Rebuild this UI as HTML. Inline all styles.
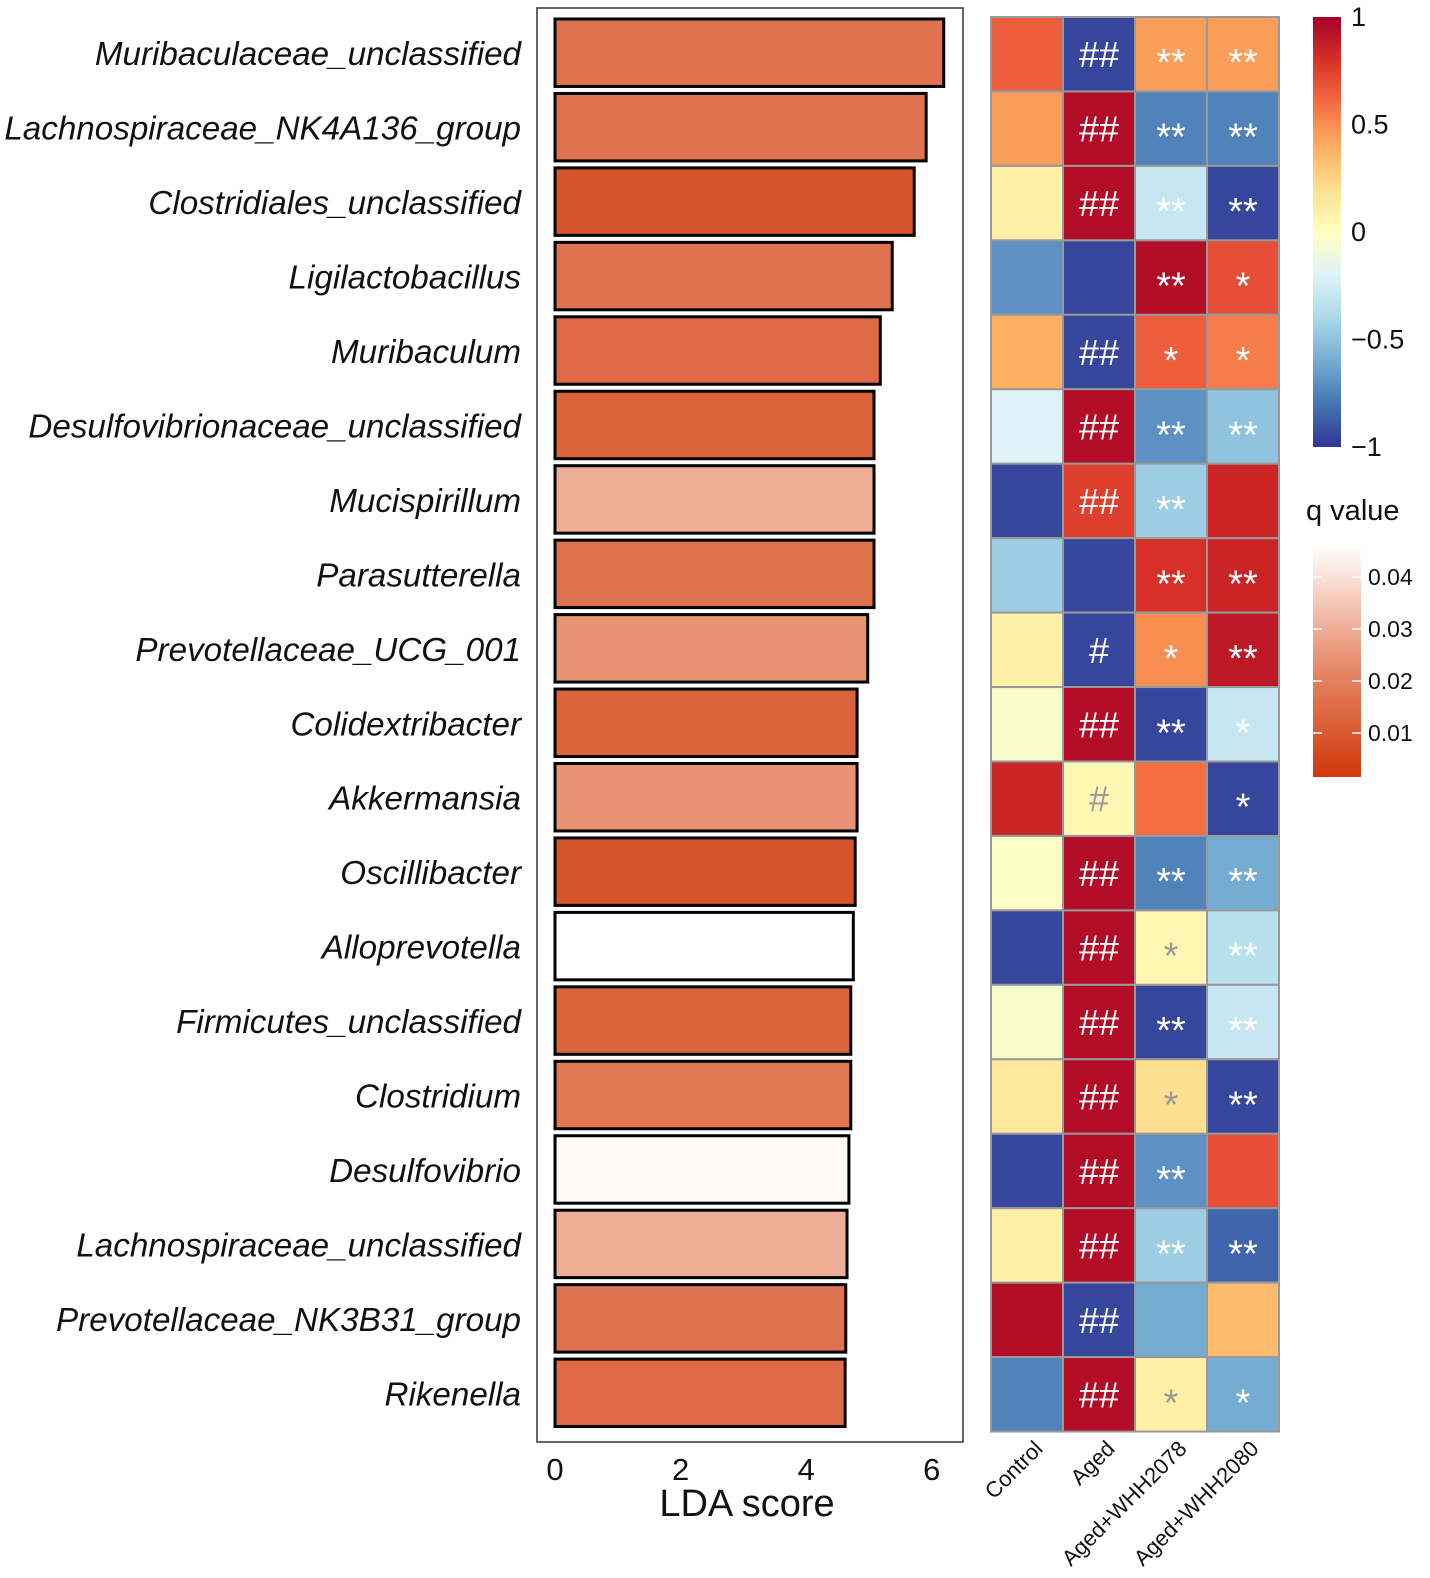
<!DOCTYPE html>
<html><head><meta charset="utf-8"><style>
html,body{margin:0;padding:0;background:#fff;}
svg{display:block;font-family:"Liberation Sans",Arial,sans-serif;}
</style></head><body>
<svg id="chart" width="1430" height="1578" viewBox="0 0 1430 1578" xmlns="http://www.w3.org/2000/svg"></svg>
<script>
const taxa=["Muribaculaceae_unclassified","Lachnospiraceae_NK4A136_group","Clostridiales_unclassified","Ligilactobacillus","Muribaculum","Desulfovibrionaceae_unclassified","Mucispirillum","Parasutterella","Prevotellaceae_UCG_001","Colidextribacter","Akkermansia","Oscillibacter","Alloprevotella","Firmicutes_unclassified","Clostridium","Desulfovibrio","Lachnospiraceae_unclassified","Prevotellaceae_NK3B31_group","Rikenella"];
const ldaScores=[6.19,5.91,5.72,5.37,5.18,5.08,5.08,5.08,4.98,4.81,4.81,4.78,4.75,4.71,4.71,4.68,4.65,4.63,4.62];
const qValues=[0.017,0.017,0.009,0.017,0.015,0.013,0.030,0.017,0.025,0.013,0.025,0.009,0.046,0.013,0.018,0.045,0.030,0.017,0.015];
const groups=["Control","Aged","Aged+WHH2078","Aged+WHH2080"];
const corrControl=[0.65,0.45,0.1,-0.7,0.4,-0.2,-0.95,-0.45,0.1,-0.05,0.85,-0.02,-0.95,-0.05,0.15,-0.95,0.1,0.95,-0.75];
const corrAged=[-0.95,0.95,0.95,-0.95,-0.95,0.95,0.75,-0.95,-0.95,0.95,0.05,0.95,0.95,0.95,0.95,0.95,0.95,-0.95,0.95];
const corr2078=[0.45,-0.75,-0.3,0.95,0.65,-0.7,-0.45,0.8,0.5,-0.95,0.6,-0.75,0.05,-0.95,0.2,-0.7,-0.45,-0.6,0.1];
const corr2080=[0.45,-0.75,-0.95,0.7,0.55,-0.5,0.85,0.85,0.9,-0.3,-0.95,-0.6,-0.35,-0.3,-0.95,0.7,-0.85,0.35,-0.6];
const markAged=["##","##","##","","##","##","##","","#","##","#","##","##","##","##","##","##","##","##"];
const mark2078=["**","**","**","**","*","**","**","**","*","**","","**","*","**","*","**","**","","*"];
const mark2080=["**","**","**","*","*","**","","**","**","*","*","**","**","**","**","","**","","*"];
const ldaTicks=[0,2,4,6];
const corrTicks=[1,0.5,0,-0.5,-1];
const corrTickLabels=["1","0.5","0","\u22120.5","\u22121"];
const qTicks=[0.04,0.03,0.02,0.01];

const NS="http://www.w3.org/2000/svg";
const svg=document.getElementById('chart');
function mk(tag,attrs,parent){const e=document.createElementNS(NS,tag);for(const k in attrs)e.setAttribute(k,attrs[k]);(parent||svg).appendChild(e);return e;}

const pitch=74.45, rowTop=17;
const xScale=v=>555+v*62.8;
const rowY=i=>rowTop+i*pitch;
function lerp(a,b,t){return a+(b-a)*t;}
function hex(c){return [parseInt(c.slice(1,3),16),parseInt(c.slice(3,5),16),parseInt(c.slice(5,7),16)];}
const rdylbu=["#313695","#4575B4","#74ADD1","#ABD9E9","#E0F3F8","#FFFFBF","#FEE090","#FDAE61","#F46D43","#D73027","#A50026"].map(hex);
function corrColor(v){let t=(Math.max(-1,Math.min(1,v))+1)/2*10;let i=Math.min(9,Math.floor(t));let f=t-i;const a=rdylbu[i],b=rdylbu[i+1];return `rgb(${Math.round(lerp(a[0],b[0],f))},${Math.round(lerp(a[1],b[1],f))},${Math.round(lerp(a[2],b[2],f))})`;}
const qStops=[[0.0017,[208,56,10]],[0.024,[232,142,110]],[0.046,[255,255,255]]];
function qColor(q){if(q<=qStops[0][0])return `rgb(${qStops[0][1]})`;for(let i=0;i<2;i++){const [q0,c0]=qStops[i],[q1,c1]=qStops[i+1];if(q<=q1){const f=(q-q0)/(q1-q0);return `rgb(${c0.map((c,k)=>Math.round(lerp(c,c1[k],f))).join(',')})`;}}return 'rgb(255,255,255)';}

const panel=mk('rect',{x:537,y:8,width:426,height:1434,fill:'none',stroke:'#333','stroke-width':1.5});


taxa.forEach((t,i)=>{
  const y=rowY(i)+2;
  const r=mk('rect',{x:xScale(0),y:y,width:xScale(ldaScores[i])-xScale(0),height:pitch-7,fill:qColor(qValues[i]),stroke:'#000','stroke-width':3});
  
  
  const tx=mk('text',{x:521,y:rowY(i)+pitch/2+11,'text-anchor':'end','font-size':33.2,'font-style':'italic',fill:'#111'});
  tx.textContent=t;
  
  
});
ldaTicks.forEach(v=>{
  const t=mk('text',{x:xScale(v),y:1480,'text-anchor':'middle','font-size':31,fill:'#111'});
  t.textContent=v;
  
  
});
const xt=mk('text',{x:747,y:1516,'text-anchor':'middle','font-size':38,fill:'#111'});
xt.textContent='LDA score';



const hx0=991, cw=72;
const cols=[corrControl,corrAged,corr2078,corr2080];
const marks=[null,markAged,mark2078,mark2080];
taxa.forEach((t,i)=>{
  cols.forEach((arr,j)=>{
    const v=arr[i];
    const c=mk('rect',{x:hx0+j*cw,y:rowY(i),width:cw,height:pitch,fill:corrColor(v),stroke:'#999','stroke-width':2});
    
    
    const m=marks[j]?marks[j][i]:'';
    if(m){
      const light=(v>-0.15&&v<0.35);
      const isHash=m[0]==='#';
      const tx=mk('text',{x:hx0+j*cw+cw/2,y:rowY(i)+pitch/2+(isHash?13:21),'text-anchor':'middle','font-size':isHash?36:38,fill:light?'#999':'#fff'});
      tx.textContent=m;
      
      
    }
  });
});
groups.forEach((g,j)=>{
  const cx=hx0+j*cw+cw/2+17, cy=1450;
  const t=mk('text',{x:cx,y:cy,'text-anchor':'end','font-size':22,fill:'#111',transform:`rotate(-45 ${cx} ${cy})`});
  t.textContent=g;
  
  
});

const defs=mk('defs',{});
const g1=mk('linearGradient',{id:'cg',x1:0,y1:1,x2:0,y2:0},defs);
for(let k=0;k<=10;k++){mk('stop',{offset:k/10,'stop-color':corrColor(-1+k/5)},g1);}
const g2=mk('linearGradient',{id:'qg',x1:0,y1:1,x2:0,y2:0},defs);
mk('stop',{offset:0,'stop-color':'rgb(208,56,10)'},g2);
mk('stop',{offset:0.5,'stop-color':'rgb(232,142,110)'},g2);
mk('stop',{offset:1,'stop-color':'#fff'},g2);
const cby=v=>232-v*215;
const cb=mk('rect',{x:1313,y:17,width:28,height:430,fill:'url(#cg)'});


corrTicks.forEach((v,k)=>{
  const t=mk('text',{x:1351,y:cby(v)+9,'font-size':27,fill:'#111'});
  t.textContent=corrTickLabels[k];
  
  
});
const qt=mk('text',{x:1306,y:520,'font-size':29,fill:'#111'});
qt.textContent='q value';


const qy=q=>733-(q-0.01)*5200;
const qb=mk('rect',{x:1313,y:546,width:48,height:231,fill:'url(#qg)'});


qTicks.forEach(v=>{
  mk('line',{x1:1313,x2:1322,y1:qy(v),y2:qy(v),stroke:'#fff','stroke-width':1.5});
  mk('line',{x1:1352,x2:1361,y1:qy(v),y2:qy(v),stroke:'#fff','stroke-width':1.5});
  const t=mk('text',{x:1368,y:qy(v)+8,'font-size':23,fill:'#111'});
  t.textContent=v.toFixed(2);
  
  
});
</script>
</body></html>
